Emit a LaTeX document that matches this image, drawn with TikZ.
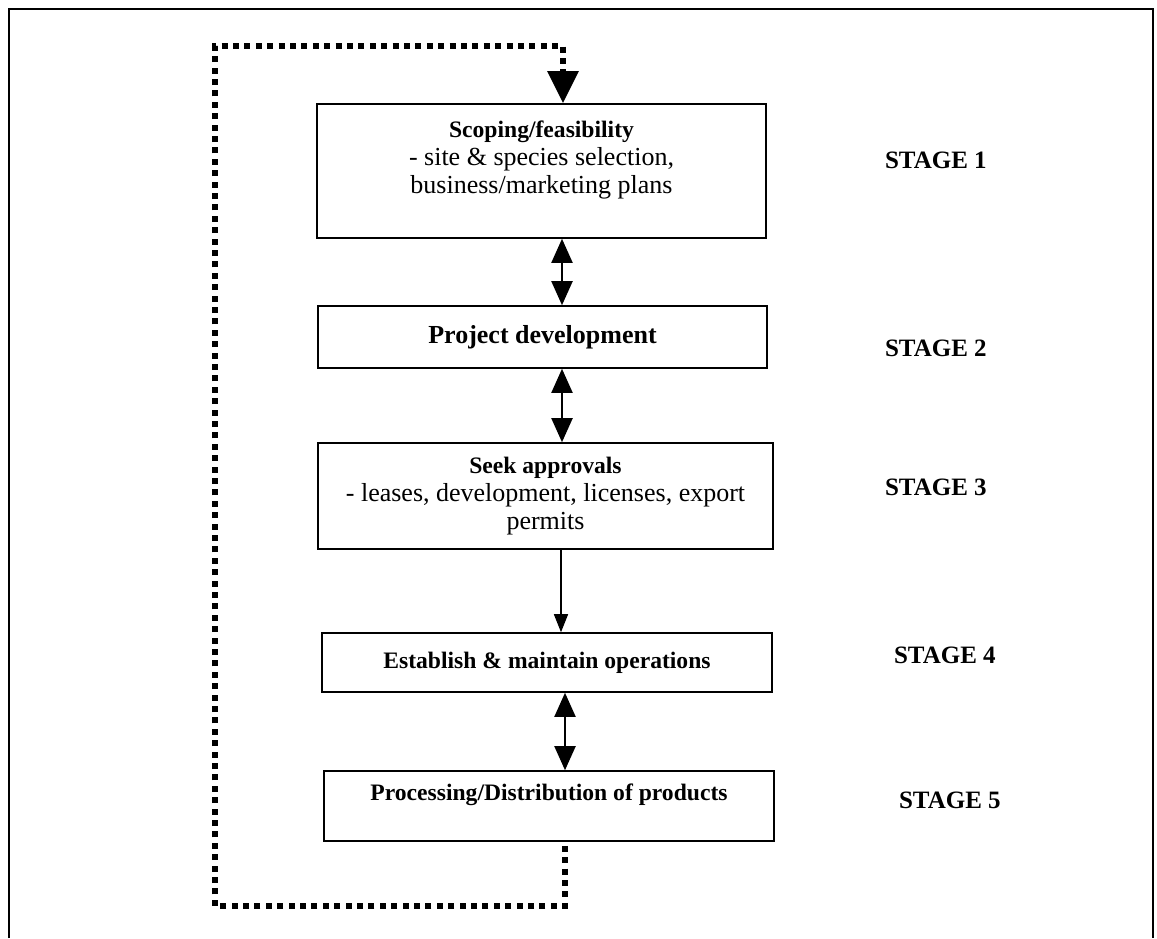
\documentclass[tikz,border=0pt]{standalone}
\usepackage{fontspec}
\setmainfont{Liberation Serif}
\usetikzlibrary{arrows.meta}

\newcommand{\bodyfont}{\fontsize{13}{14}\selectfont}
\newcommand{\headfont}{\fontsize{11.8}{14}\selectfont\bfseries}
\tikzset{
  stagebox/.style={draw=black, line width=0.8pt, rectangle, inner sep=0pt, align=center, font=\bodyfont},
  stagelabel/.style={anchor=west, font=\fontsize{12.5}{15}\selectfont\bfseries},
  twoway/.style={line width=1pt, {Triangle[width=10.5pt,length=12pt]}-{Triangle[width=10.5pt,length=12pt]}},
  oneway/.style={line width=0.7pt, -{Triangle[width=7pt,length=9pt]}},
  loopline/.style={line width=3pt, dash pattern=on 3pt off 2.7pt, -{Triangle[width=15pt,length=16pt]}},
  frameline/.style={line width=1.3pt}
}

\begin{document}
\begin{tikzpicture}[x=0.5pt,y=-0.5pt]
\useasboundingbox (0,0) rectangle (1157,938);

\coordinate (a12) at (562,0);
\coordinate (a23) at (562,0);
\coordinate (a34) at (561,0);
\coordinate (a45) at (565,0);

\coordinate (p1) at (565,906);
\coordinate (p2) at (215,906);
\coordinate (p3) at (215,46);
\coordinate (p4) at (563,46);

\draw[frameline] (9,938) -- (9,9) -- (1153,9) -- (1153,938);

\node[stagebox, minimum width=224.5pt, minimum height=67pt] (box1) at (541.5,171)
  {\headfont Scoping/feasibility\\ - site \& species selection,\\ business/marketing plans\\ \mbox{}};
\node[stagebox, minimum width=224.5pt, minimum height=31pt] (box2) at (542.5,337)
  {\bfseries Project development};
\node[stagebox, minimum width=227.5pt, minimum height=53pt] (box3) at (545.5,496)
  {\headfont Seek approvals\\ - leases, development, licenses, export\\ permits};
\node[stagebox, minimum width=225pt, minimum height=29.5pt] (box4) at (547,662.5)
  {\headfont Establish \& maintain operations};
\node[stagebox, minimum width=225pt, minimum height=35pt] (box5) at (549,806)
  {\headfont Processing/Distribution of products\\ \mbox{}};

\node[stagelabel] (s1) at (878,160) {STAGE 1};
\node[stagelabel] (s2) at (878,348) {STAGE 2};
\node[stagelabel] (s3) at (878,487) {STAGE 3};
\node[stagelabel] (s4) at (887,655) {STAGE 4};
\node[stagelabel] (s5) at (892,800) {STAGE 5};

\draw[twoway] (box1.south -| a12) -- (box2.north -| a12);
\draw[twoway] (box2.south -| a23) -- (box3.north -| a23);
\draw[oneway] (box3.south -| a34) -- (box4.north -| a34);
\draw[twoway] (box4.south -| a45) -- (box5.north -| a45);

\draw[loopline] ([yshift=-2pt]box5.south -| p1) -- (p1) -- (p2) -- (p3) -- (p4) -- (box1.north -| p4);
\end{tikzpicture}
\end{document}
